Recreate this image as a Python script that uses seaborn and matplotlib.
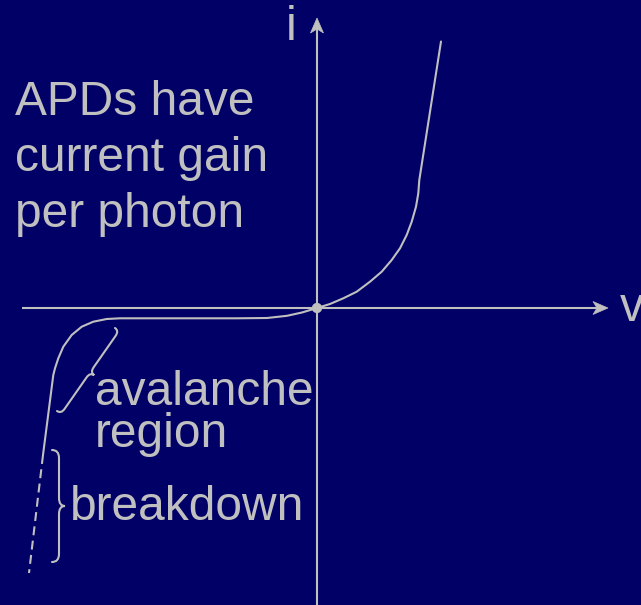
import numpy as np
import pandas as pd
import matplotlib
matplotlib.use("Agg")
import matplotlib.pyplot as plt
from matplotlib.path import Path
from matplotlib.patches import PathPatch, Polygon
import seaborn as sns

# ---- data: APD current-voltage characteristic (arbitrary units) ----
v_curve = [124, 102.3, 101.3, 99, 94.7, 89.7, 83, 74.7, 64.7, 53, 39.7,
           26.3, 13, 0, -15, -30, -50, -80, -197, -210.3, -223.7, -235.3,
           -245.3, -253.7, -258.7, -262, -263.7, -274]
i_curve = [266.5, 128, 114.7, 101.3, 86.3, 73, 59.7, 48, 36.3, 26.3, 16.3,
           9.7, 4, 0, -4.5, -7.8, -10, -10.3, -10.3, -11, -13.7, -18.7,
           -27, -38.7, -50.3, -60.3, -67, -147]
# extrapolated breakdown branch (dashed)
v_breakdown = [-274, -288]
i_breakdown = [-147, -265]

title_lines = ["APDs have", "current gain", "per photon"]
axis_labels = ["v", "i"]
avalanche_lines = ["avalanche", "region"]
breakdown_label = "breakdown"

BG = "#000066"
FG = "#C0C0C0"

sns.set_theme(style="white")
plt.rcParams["font.family"] = ["Liberation Sans", "DejaVu Sans"]

fig = plt.figure(figsize=(6.41, 6.05), dpi=100, facecolor=BG)
ax = fig.add_axes([0, 0, 1, 1])
ax.set_facecolor(BG)
ax.set_xlim(-317, 324)
ax.set_ylim(-297, 308)
ax.axis("off")

# ---- coordinate axes with stealth arrowheads ----
LW = 1.5
ax.plot([-295, 284], [0, 0], color=FG, lw=LW, solid_capstyle="butt")
ax.plot([0, 0], [-297, 283], color=FG, lw=LW, solid_capstyle="butt")


def arrowhead(tip, direction, length=15, half=6.5, notch=4):
    d = np.asarray(direction, float)
    d /= np.hypot(*d)
    n = np.array([-d[1], d[0]])
    tip = np.asarray(tip, float)
    back = tip - d * length
    pts = [tip, back + n * half, tip - d * (length - notch), back - n * half]
    ax.add_patch(Polygon(pts, closed=True, facecolor=FG, edgecolor=FG, lw=0.5))


arrowhead((291, 0), (1, 0))
arrowhead((0, 290), (0, 1))

# ---- I-V curve ----
df = pd.DataFrame({"v": v_curve, "i": i_curve})
sns.lineplot(data=df, x="v", y="i", sort=False, estimator=None,
             color=FG, lw=LW, ax=ax)
dfb = pd.DataFrame({"v": v_breakdown, "i": i_breakdown})
sns.lineplot(data=dfb, x="v", y="i", sort=False, estimator=None,
             color=FG, lw=LW, linestyle=(0, (4.3, 2.6)), ax=ax)
sns.scatterplot(x=[0], y=[0], s=55, color=FG, edgecolor="none", ax=ax, zorder=5)
ax.set_xlabel("")
ax.set_ylabel("")


# ---- curly braces ----
def brace(p0, p1, depth, tip, q=7):
    p0 = np.asarray(p0, float)
    p1 = np.asarray(p1, float)
    t = p1 - p0
    L = np.hypot(*t)
    t /= L
    n = np.array([t[1], -t[0]])  # right-hand normal
    h = L / 2

    def P(u, w):
        return p0 + t * u + n * w

    verts = [P(0, 0), P(0, depth), P(q, depth),
             P(h - q, depth), P(h, depth), P(h, tip),
             P(h, depth), P(h + q, depth),
             P(L - q, depth), P(L, depth), P(L, 0)]
    codes = [Path.MOVETO, Path.CURVE3, Path.CURVE3,
             Path.LINETO, Path.CURVE3, Path.CURVE3,
             Path.CURVE3, Path.CURVE3,
             Path.LINETO, Path.CURVE3, Path.CURVE3]
    ax.add_patch(PathPatch(Path(verts, codes), facecolor="none",
                           edgecolor=FG, lw=LW, capstyle="round"))


brace((-260, -103), (-202, -20), depth=5, tip=10, q=6)
brace((-265, -142), (-265, -254), depth=-7, tip=-13, q=8)

# ---- text ----
FS = 34.5
for k, line in enumerate(title_lines):
    ax.text(-302, 193 - 56 * k, line, color=FG, fontsize=FS,
            ha="left", va="baseline")
ax.text(302.5, -13, axis_labels[0], color=FG, fontsize=FS, ha="left", va="baseline")
ax.text(-26, 268, axis_labels[1], color=FG, fontsize=FS, ha="center", va="baseline")
ax.text(-222, -97, avalanche_lines[0], color=FG, fontsize=FS, ha="left", va="baseline")
ax.text(-222, -139, avalanche_lines[1], color=FG, fontsize=FS, ha="left", va="baseline")
ax.text(-247, -212, breakdown_label, color=FG, fontsize=FS, ha="left", va="baseline")

fig.savefig("out.png", dpi=100, facecolor=BG)
